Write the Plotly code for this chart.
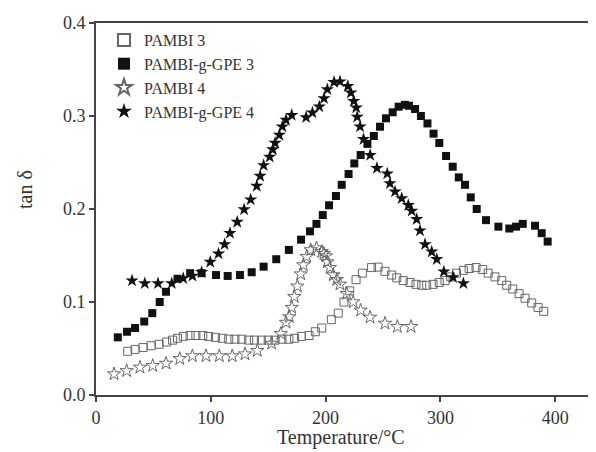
import plotly.graph_objects as go

# PAMBI 3 (open squares)
t_pambi3 = [27.6, 34, 41, 48, 55, 61.5, 66.7, 71, 76, 82, 87, 93, 98, 104, 110, 115.6, 121, 127,
            133, 138, 144, 150, 156, 162, 168, 173, 179, 185.6, 191, 196.6, 205, 211, 216, 221,
            226.5, 232, 240, 245.7, 251.7, 257.5, 262, 267.6, 273.5, 278.7, 283.7, 288, 293.6,
            299, 304, 309, 314, 320, 325, 331, 336.8, 341.6, 347.5, 353.4, 357.7, 363, 368.5,
            373.7, 379.5, 385, 390]
v_pambi3 = [0.047, 0.049, 0.051, 0.053, 0.0545, 0.057, 0.059, 0.061, 0.063, 0.064, 0.064, 0.064,
            0.063, 0.062, 0.061, 0.060, 0.060, 0.060, 0.059, 0.059, 0.059, 0.059, 0.059, 0.060,
            0.060, 0.061, 0.063, 0.064, 0.068, 0.072, 0.081, 0.088, 0.100, 0.112, 0.124, 0.131,
            0.137, 0.1375, 0.133, 0.129, 0.126, 0.123, 0.121, 0.119, 0.118, 0.118, 0.119, 0.121,
            0.123, 0.127, 0.131, 0.134, 0.136, 0.137, 0.135, 0.131, 0.127, 0.123, 0.118, 0.114,
            0.109, 0.104, 0.099, 0.094, 0.090]

# PAMBI-g-GPE 3 (filled squares)
t_gpe3 = [19, 27, 34, 42, 49, 55.5, 61, 71, 82, 92, 104.5, 114.7, 125.4, 135.6, 146, 157, 168,
          178.6, 186.4, 192, 197.5, 203, 209, 214, 220, 225, 230.5, 236.4, 242, 247.4, 252.6,
          258.4, 263.6, 269, 272.6, 277.9, 283, 288.7, 294, 299, 304.9, 310.7, 316, 321.4,
          326.4, 331.6, 339.7, 350.5, 360, 365.9, 371.7, 382.4, 388.2, 393.4]
v_gpe3 = [0.062, 0.068, 0.072, 0.079, 0.088, 0.100, 0.111, 0.125, 0.131, 0.131, 0.129, 0.128,
          0.129, 0.132, 0.138, 0.146, 0.156, 0.167, 0.176, 0.184, 0.1935, 0.204, 0.214, 0.226,
          0.2376, 0.249, 0.258, 0.270, 0.2785, 0.2885, 0.2975, 0.304, 0.310, 0.312, 0.311,
          0.3075, 0.300, 0.292, 0.281, 0.271, 0.257, 0.2455, 0.234, 0.226, 0.2125, 0.200,
          0.188, 0.181, 0.179, 0.181, 0.184, 0.182, 0.174, 0.165]

# PAMBI 4 (open stars)
t_pambi4 = [15.7, 26.7, 38.3, 49.4, 61, 73, 84, 95.8, 107.4, 118.7, 129.8, 140.5, 153, 161,
            165.5, 168.4, 170.5, 172.7, 175.4, 178.3, 180.6, 183.5, 187, 192, 196.6, 198.5,
            200.3, 201.5, 203.8, 206.7, 209.7, 212.5, 218.4, 224, 230.5, 238.7, 251.7, 262.5,
            274.4]
v_pambi4 = [0.0226, 0.026, 0.0297, 0.0315, 0.034, 0.039, 0.042, 0.042, 0.042, 0.042, 0.044,
            0.0477, 0.0555, 0.066, 0.078, 0.084, 0.094, 0.1057, 0.117, 0.130, 0.1398, 0.1487,
            0.156, 0.158, 0.154, 0.152, 0.1495, 0.143, 0.137, 0.129, 0.124, 0.119, 0.109, 0.100,
            0.091, 0.0835, 0.077, 0.0735, 0.0735]

# PAMBI-g-GPE 4 (filled stars)
t_gpe4 = [31.4, 42.5, 54, 66, 76, 84, 92, 99.5, 106.7, 112, 116.7, 123, 129, 134.7, 140, 143,
          146, 151.3, 154, 156, 159.7, 162.3, 165.5, 170.5, 183, 188.5, 194.5, 198.6, 201.5,
          207.3, 212.5, 219.3, 222, 224.5, 226.7, 227.5, 230, 233, 238.8, 244.7, 253.7, 256,
          260.5, 266.3, 272, 275, 279.3, 282.2, 286.6, 292.4, 296.8, 303, 311, 320]
v_gpe4 = [0.123, 0.120, 0.120, 0.120, 0.1255, 0.128, 0.132, 0.143, 0.152, 0.162, 0.174, 0.186,
          0.1995, 0.210, 0.2247, 0.2355, 0.247, 0.256, 0.264, 0.271, 0.2796, 0.2885, 0.2957,
          0.301, 0.2986, 0.3036, 0.310, 0.319, 0.3286, 0.3365, 0.337, 0.332, 0.325, 0.316,
          0.309, 0.299, 0.2885, 0.275, 0.258, 0.244, 0.238, 0.2275, 0.2186, 0.2115, 0.204,
          0.198, 0.189, 0.1767, 0.162, 0.154, 0.146, 0.1326, 0.1265, 0.120]

x_ticks = [0, 100, 200, 300, 400]
y_ticks = [0.0, 0.1, 0.2, 0.3, 0.4]

font = "Liberation Serif, Times New Roman, serif"
ink = "#333333"

fig = go.Figure()
fig.add_trace(go.Scatter(
    x=t_pambi3, y=v_pambi3, mode="markers", name="PAMBI 3",
    marker=dict(symbol="square-open", size=8, color="#666666", line=dict(width=1)),
))
fig.add_trace(go.Scatter(
    x=t_gpe3, y=v_gpe3, mode="markers", name="PAMBI-g-GPE 3",
    marker=dict(symbol="square", size=8, color="#111111"),
))
fig.add_trace(go.Scatter(
    x=t_pambi4, y=v_pambi4, mode="markers", name="PAMBI 4",
    marker=dict(symbol="star-open", size=10, color="#666666", line=dict(width=1)),
))
fig.add_trace(go.Scatter(
    x=t_gpe4, y=v_gpe4, mode="markers", name="PAMBI-g-GPE 4",
    marker=dict(symbol="star", size=10, color="#111111"),
))

# page body adds an 8px offset, so the figure is 8px smaller and margins shifted
fig.update_layout(
    width=588, height=444,
    margin=dict(l=88, r=0, t=15, b=57),
    paper_bgcolor="white", plot_bgcolor="white",
    font=dict(family=font, size=18, color=ink),
    showlegend=True,
    legend=dict(x=0.016, y=1.0, xanchor="left", yanchor="top",
                font=dict(size=16, color=ink), itemsizing="constant",
                bgcolor="rgba(0,0,0,0)", tracegroupgap=0),
    annotations=[
        dict(text="tan δ", xref="paper", yref="paper", x=-0.142, y=0.551,
             xanchor="center", yanchor="middle",
             textangle=-90, showarrow=False, font=dict(size=20, color=ink)),
        dict(text="Temperature/°C", xref="paper", yref="paper", x=0.49, y=-0.113,
             xanchor="center", yanchor="middle",
             showarrow=False, font=dict(size=20, color=ink)),
    ],
)
fig.update_xaxes(
    range=[0, 435.5], tickvals=x_ticks, showgrid=False, zeroline=False,
    showline=True, linewidth=2, linecolor="#444444", mirror=True,
    ticks="outside", ticklen=5, tickwidth=1.5, tickcolor="#444444",
)
fig.update_yaxes(
    range=[0, 0.4], tickvals=y_ticks, tickformat=".1f", showgrid=False, zeroline=False,
    showline=True, linewidth=2, linecolor="#444444",
    ticks="outside", ticklen=5, tickwidth=1.5, tickcolor="#444444",
)

fig.write_html("out.html")
